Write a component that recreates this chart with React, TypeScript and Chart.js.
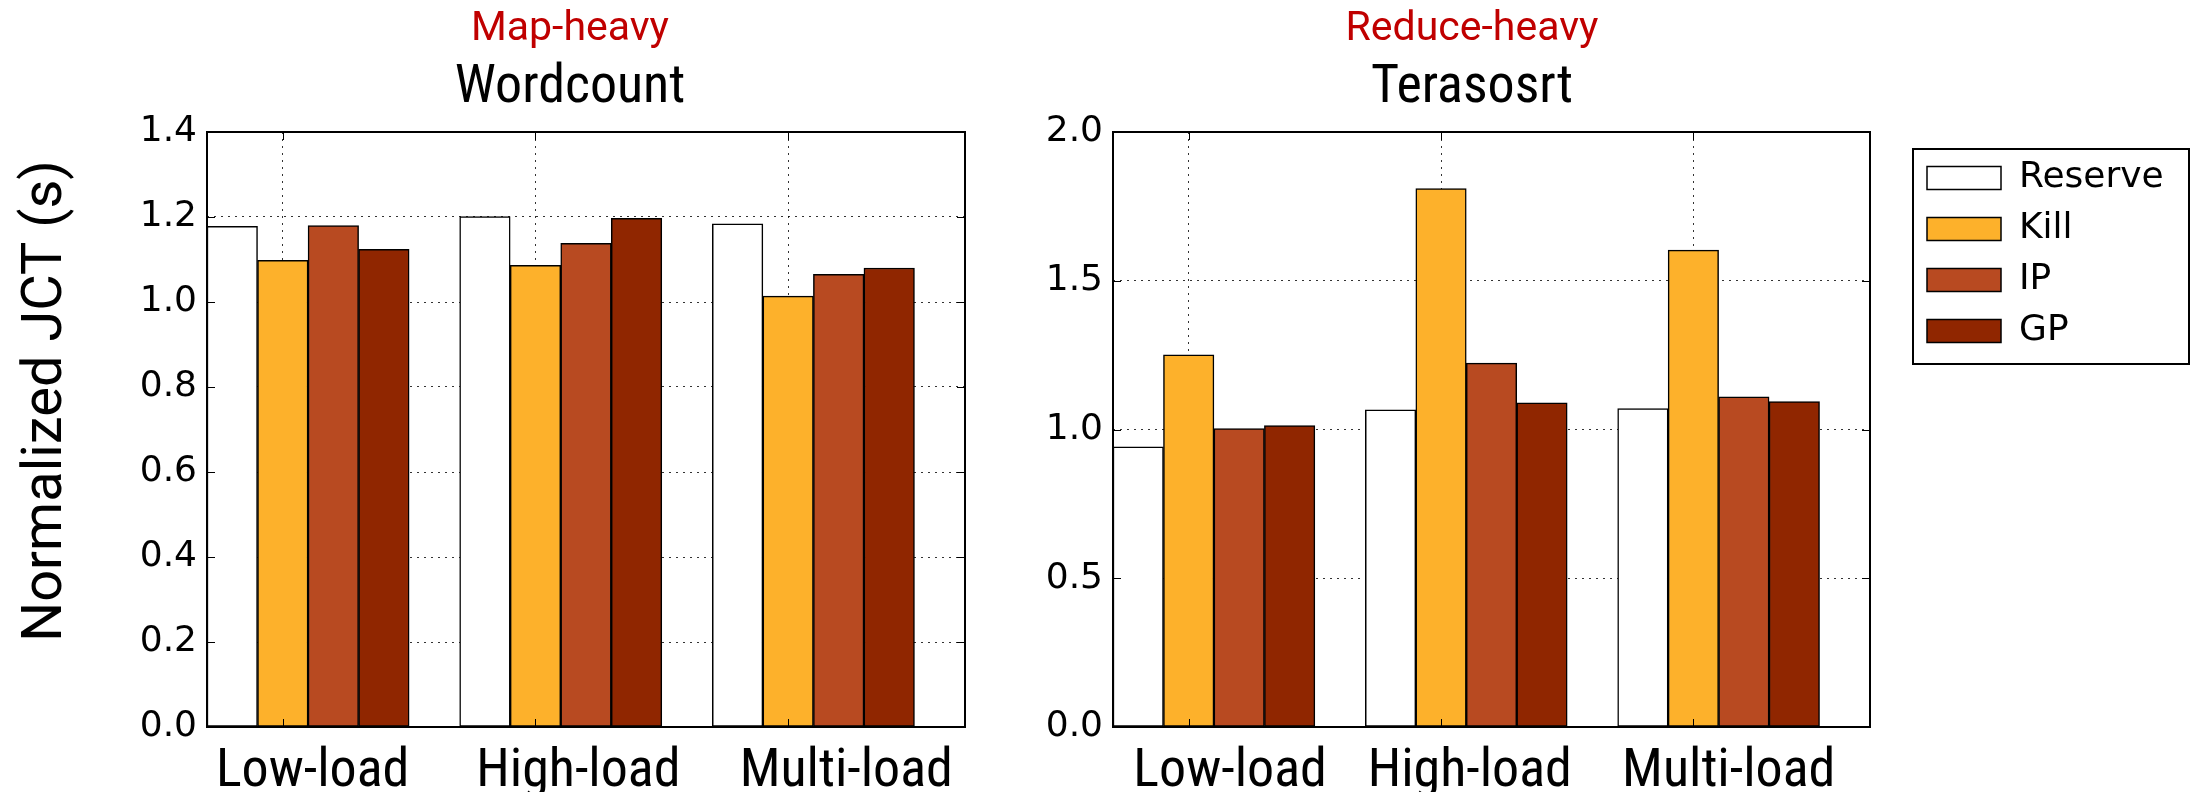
import React, { useEffect, useRef } from 'react';
import { Chart, registerables } from 'chart.js';

Chart.register(...registerables);

// ---------- data ----------
const CATEGORIES = ['Low-load', 'High-load', 'Multi-load'];
const SERIES = ['Reserve', 'Kill', 'IP', 'GP'];

const WORDCOUNT_RESERVE = [1.178, 1.201, 1.184];
const WORDCOUNT_KILL = [1.098, 1.086, 1.014];
const WORDCOUNT_IP = [1.180, 1.138, 1.065];
const WORDCOUNT_GP = [1.124, 1.197, 1.080];

const TERASORT_RESERVE = [0.942, 1.066, 1.070];
const TERASORT_KILL = [1.251, 1.810, 1.603];
const TERASORT_IP = [1.003, 1.223, 1.110];
const TERASORT_GP = [1.013, 1.090, 1.094];

const LEFT_Y_TICKS = [0, 0.2, 0.4, 0.6, 0.8, 1.0, 1.2, 1.4];
const RIGHT_Y_TICKS = [0, 0.5, 1.0, 1.5, 2.0];

// ---------- styling / layout ----------
const SERIES_COLORS = ['#FFFFFF', '#FDB12B', '#B84A21', '#902600'];
const SLOTS_PER_GROUP = 5; // 4 bars + 1 gap
const X_MAX = CATEGORIES.length * SLOTS_PER_GROUP;
const GRID_X = [1.5, 6.5, 11.5];
const LEFT_LABEL_X = [2.09, 7.35, 12.65];
const RIGHT_LABEL_X = [2.32, 7.07, 12.2];

const CONDENSED = '"Roboto Condensed", "Liberation Sans Narrow", Roboto, sans-serif';
const DEJAVU = '"DejaVu Sans", sans-serif';
const ROBOTO = 'Roboto, sans-serif';
const GRID_COLOR = 'rgba(0,0,0,0.8)';

function buildDatasets(values: number[][]) {
  return SERIES.map((name, k) => ({
    label: name,
    data: values[k].map((v, g) => ({ x: g * SLOTS_PER_GROUP + k + 0.5, y: v })),
    backgroundColor: SERIES_COLORS[k],
    borderColor: '#000000',
    borderWidth: 1.5,
    borderSkipped: false as const,
    grouped: false,
    barPercentage: 1,
    categoryPercentage: 1,
  }));
}

const framePlugin = {
  id: 'frame',
  afterDraw(chart: any) {
    const { ctx, chartArea: a } = chart;
    ctx.save();
    ctx.strokeStyle = '#000';
    ctx.lineWidth = 1;
    const y = chart.scales.y;
    y.ticks.forEach((t: any) => {
      const p = Math.round(y.getPixelForValue(t.value)) + 0.5;
      if (p > a.top + 2 && p < a.bottom - 2) {
        ctx.beginPath();
        ctx.moveTo(a.left, p); ctx.lineTo(a.left + 8, p);
        ctx.moveTo(a.right - 8, p); ctx.lineTo(a.right, p);
        ctx.stroke();
      }
    });
    const xg = chart.scales.xg;
    xg.ticks.forEach((t: any) => {
      const p = Math.round(xg.getPixelForValue(t.value)) + 0.5;
      ctx.beginPath();
      ctx.moveTo(p, a.top); ctx.lineTo(p, a.top + 8);
      ctx.moveTo(p, a.bottom - 8); ctx.lineTo(p, a.bottom);
      ctx.stroke();
    });
    ctx.lineWidth = 2;
    ctx.strokeRect(a.left, a.top, a.right - a.left, a.bottom - a.top);
    ctx.restore();
  },
};

const yTitlePlugin = {
  id: 'yTitle',
  afterDraw(chart: any, _args: any, opts: any) {
    if (!opts || !opts.text) return;
    const { ctx } = chart;
    ctx.save();
    ctx.translate(opts.x, opts.y);
    ctx.rotate(-Math.PI / 2);
    ctx.font = `normal ${opts.size}px ${opts.family}`;
    ctx.fillStyle = opts.color;
    ctx.textAlign = 'center';
    ctx.textBaseline = 'middle';
    ctx.fillText(opts.text, 0, 0);
    ctx.restore();
  },
};

const legendBoxPlugin = {
  id: 'legendBox',
  afterLayout(chart: any, _args: any, opts: any) {
    if (!opts || !opts.enabled || !chart.legend) return;
    const lg = chart.legend;
    lg.left = opts.left;
    lg.top = opts.top;
    lg.width = opts.width;
    lg.height = opts.height;
    lg.right = lg.left + lg.width;
    lg.bottom = lg.top + lg.height;
  },
  afterDraw(chart: any, _args: any, opts: any) {
    if (!opts || !opts.enabled || !chart.legend) return;
    const lg = chart.legend;
    const { ctx } = chart;
    ctx.save();
    ctx.strokeStyle = '#000';
    ctx.lineWidth = 2;
    ctx.strokeRect(lg.left + opts.frameDx, lg.top + opts.frameDy, opts.frameW, opts.frameH);
    ctx.restore();
  },
};

function makeConfig(p: {
  values: number[][];
  title: string;
  subtitle: string;
  yTicks: number[];
  labelX: number[];
  yWidth: number;
  rightPad: number;
  layoutRight: number;
  legend: boolean;
  yTitle?: any;
}): any {
  const scales: any = {
    x: {
      type: 'linear',
      position: 'bottom',
      min: 0,
      max: X_MAX,
      offset: false,
      afterBuildTicks: (s: any) => { s.ticks = p.labelX.map((v) => ({ value: v })); },
      ticks: {
        autoSkip: false,
        maxRotation: 0,
        minRotation: 0,
        callback: (_v: any, i: number) => CATEGORIES[i],
        font: { family: CONDENSED, size: 54 },
        color: '#000',
        padding: 5,
      },
      grid: { display: false, offset: false },
      border: { display: false },
      afterFit: (s: any) => { s.height = 65; },
    },
    xg: {
      type: 'linear',
      position: 'bottom',
      min: 0,
      max: X_MAX,
      offset: false,
      z: 1,
      afterBuildTicks: (s: any) => { s.ticks = GRID_X.map((v) => ({ value: v })); },
      ticks: { display: false },
      grid: { drawTicks: false, color: GRID_COLOR, lineWidth: 1, offset: false },
      border: { display: false, dash: [2, 5] },
      afterFit: (s: any) => { s.height = 0; },
    },
    y: {
      type: 'linear',
      position: 'left',
      min: 0,
      max: p.yTicks[p.yTicks.length - 1],
      z: 1,
      afterBuildTicks: (s: any) => { s.ticks = p.yTicks.map((v) => ({ value: v })); },
      ticks: {
        callback: (v: any) => Number(v).toFixed(1),
        font: { family: DEJAVU, size: 36 },
        color: '#000',
        padding: 10,
      },
      grid: { drawTicks: false, color: GRID_COLOR, lineWidth: 1 },
      border: { display: false, dash: [2, 5] },
      afterFit: (s: any) => { s.width = p.yWidth; },
    },
  };
  if (p.rightPad > 0) {
    scales.pad = {
      type: 'linear',
      position: 'right',
      display: true,
      ticks: { display: false },
      grid: { display: false },
      border: { display: false },
      afterFit: (s: any) => { s.width = p.rightPad; },
    };
  }
  return {
    type: 'bar',
    data: { datasets: buildDatasets(p.values) },
    options: {
      responsive: false,
      animation: false,
      devicePixelRatio: 1,
      layout: { padding: { left: 0, top: 0, bottom: 0, right: p.layoutRight } },
      scales,
      plugins: {
        tooltip: { enabled: false },
        title: {
          display: true,
          text: p.title,
          color: '#C00000',
          font: { family: ROBOTO, size: 41, weight: 'normal' },
          padding: { top: 5, bottom: 0 },
        },
        subtitle: {
          display: true,
          text: p.subtitle,
          color: '#000',
          font: { family: CONDENSED, size: 54, weight: 'normal' },
          padding: { top: 2, bottom: 11 },
        },
        legend: p.legend
          ? {
              display: true,
              position: 'right',
              align: 'start',
              maxWidth: 50,
              labels: {
                font: { family: DEJAVU, size: 36 },
                color: '#000',
                boxWidth: 74,
                boxHeight: 23,
                padding: 15,
              },
            }
          : { display: false },
        legendBox: p.legend
          ? { enabled: true, left: 888, top: 145, width: 300, height: 240, frameDx: 1, frameDy: 4, frameW: 276, frameH: 215 }
          : { enabled: false },
        yTitle: p.yTitle || {},
      },
    },
    plugins: [framePlugin, yTitlePlugin, legendBoxPlugin],
  };
}

export default function App() {
  const leftRef = useRef<HTMLCanvasElement>(null);
  const rightRef = useRef<HTMLCanvasElement>(null);

  useEffect(() => {
    document.body.style.margin = '0';
    const left = new Chart(
      leftRef.current as HTMLCanvasElement,
      makeConfig({
        values: [WORDCOUNT_RESERVE, WORDCOUNT_KILL, WORDCOUNT_IP, WORDCOUNT_GP],
        title: 'Map-heavy',
        subtitle: 'Wordcount',
        yTicks: LEFT_Y_TICKS,
        labelX: LEFT_LABEL_X,
        yWidth: 207,
        rightPad: 175,
        layoutRight: 0,
        legend: false,
        yTitle: { text: 'Normalized JCT (s)', x: 47, y: 401, size: 56, family: ROBOTO, color: '#000' },
      })
    );
    const right = new Chart(
      rightRef.current as HTMLCanvasElement,
      makeConfig({
        values: [TERASORT_RESERVE, TERASORT_KILL, TERASORT_IP, TERASORT_GP],
        title: 'Reduce-heavy',
        subtitle: 'Terasosrt',
        yTicks: RIGHT_Y_TICKS,
        labelX: RIGHT_LABEL_X,
        yWidth: 89,
        rightPad: 0,
        layoutRight: 278,
        legend: true,
      })
    );
    return () => {
      left.destroy();
      right.destroy();
    };
  }, []);

  return (
    <div
      style={{
        position: 'fixed',
        left: 0,
        top: 0,
        width: 2198,
        height: 792,
        overflow: 'hidden',
        background: '#ffffff',
      }}
    >
      <canvas
        ref={leftRef}
        width={1140}
        height={792}
        style={{ position: 'absolute', left: 0, top: 0, width: 1140, height: 792 }}
      />
      <canvas
        ref={rightRef}
        width={1174}
        height={792}
        style={{ position: 'absolute', left: 1024, top: 0, width: 1174, height: 792 }}
      />
    </div>
  );
}
